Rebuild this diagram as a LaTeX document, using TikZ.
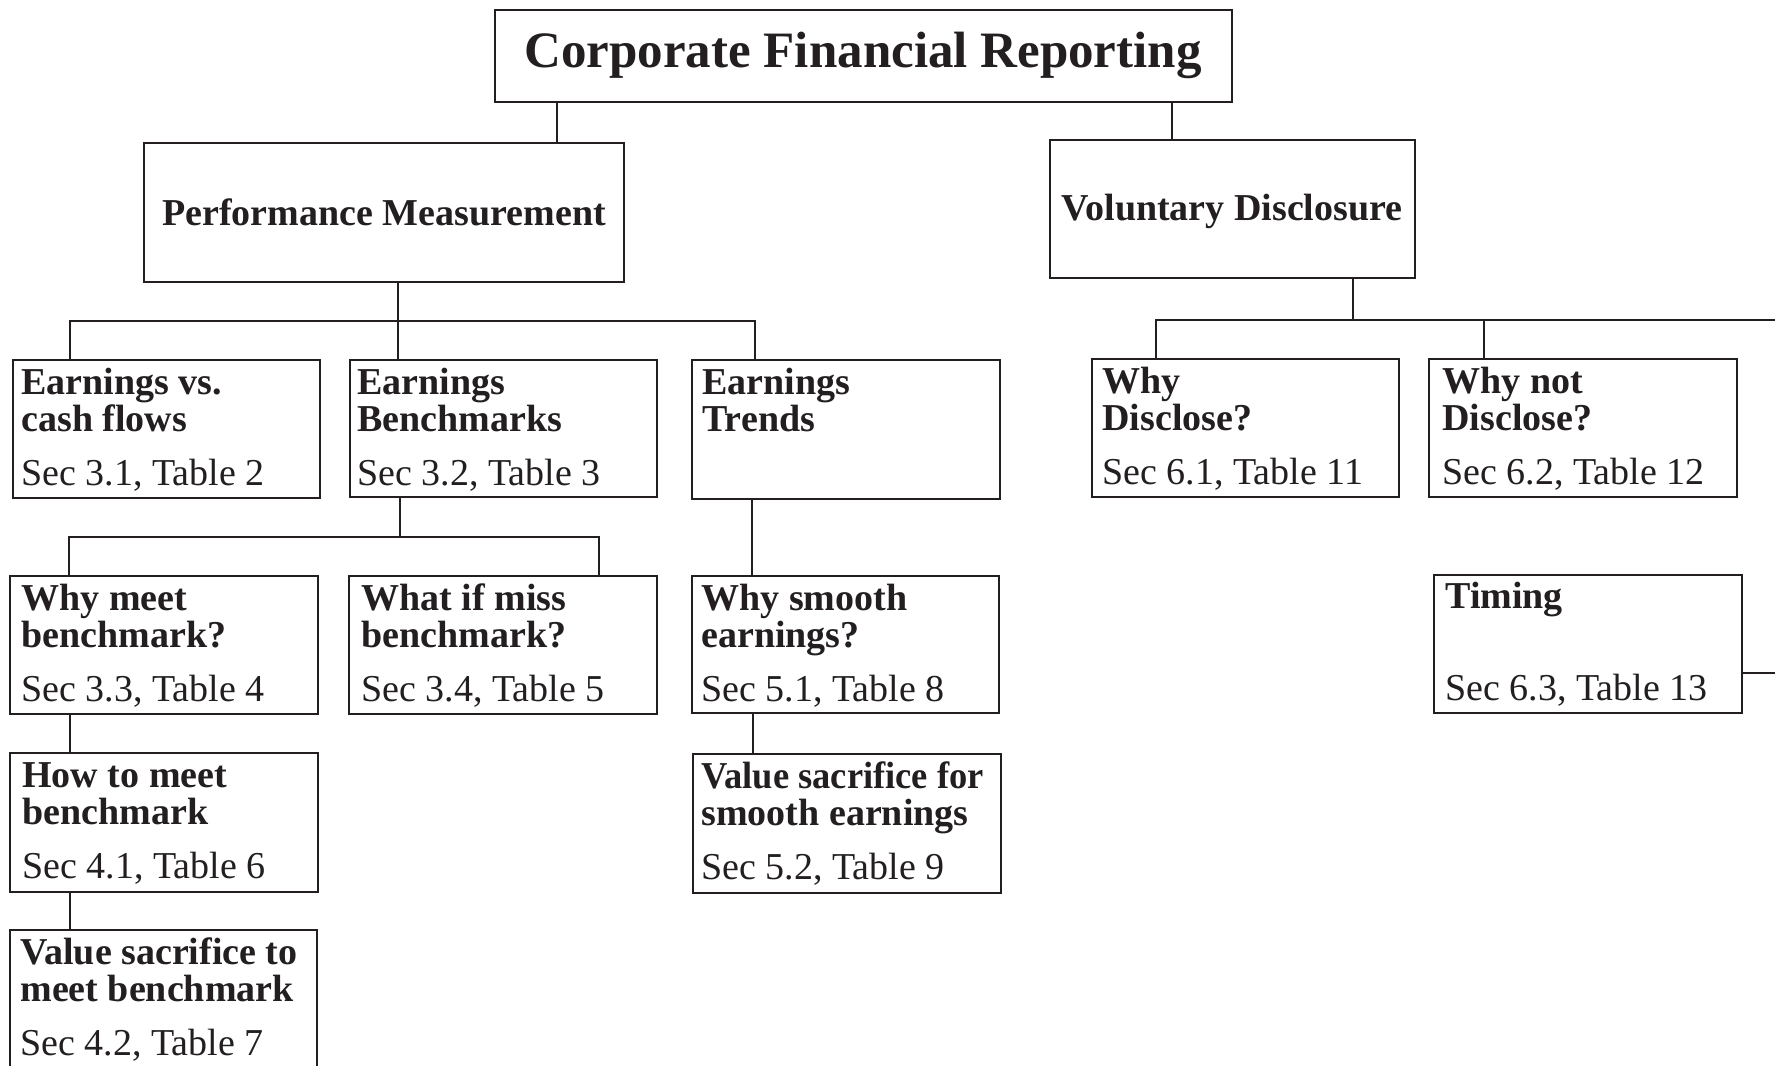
\documentclass[tikz,border=0pt]{standalone}
\usepackage{fontspec}
\setmainfont{Liberation Serif}
\usepackage{graphicx}
\usetikzlibrary{fit}
\definecolor{ink}{HTML}{231F20}
\tikzset{
  boxst/.style={draw=ink, line width=1.1pt, inner sep=0pt, rectangle},
  conn/.style={draw=ink, line width=1pt},
  bt/.style={anchor=base west, inner sep=0pt, text=ink, font=\bfseries\fontsize{19}{22}\selectfont},
  rt/.style={anchor=base west, inner sep=0pt, text=ink, font=\fontsize{19}{22}\selectfont},
  tt/.style={anchor=base, inner sep=0pt, text=ink, font=\bfseries\fontsize{25.5}{30}\selectfont},
}
% name, x1, y1, x2, y2, text x, line1, line2, sec
\newcommand\threebox[9]{%
  \node[boxst, fit={(#2,#3)(#4,#5)}] (#1) {};
  \node[bt] (#1-1) at (#6,#3+34) {#7};
  \node[bt] (#1-2) at (#6,#3+71) {#8};
  \node[rt] (#1-3) at (#6,#3+125) {#9};
}
\begin{document}
\begin{tikzpicture}[x=0.5pt,y=-0.5pt]
\useasboundingbox (0,0) rectangle (1775,1065);
\clip (0,0) rectangle (1775,1065);
\fill[white] (0,0) rectangle (1775,1065);

% top levels
\node[boxst, fit={(495,10)(1232,102)}] (root) {};
\node[tt] (root-t) at (863,68) {Corporate Financial Reporting};
\node[boxst, fit={(144,143)(624,282)}] (pm) {};
\node[bt, anchor=base] (pm-t) at (384,225) {Performance Measurement};
\node[boxst, fit={(1050,140)(1415,278)}] (vd) {};
\node[bt, anchor=base] (vd-t) at (1232,220) {Voluntary Disclosure};

% level 2
\threebox{evc}{13}{360}{320}{498}{21}{Earnings vs.}{cash flows}{Sec 3.1, Table 2}
\threebox{eb}{350}{360}{657}{497}{357}{Earnings}{Benchmarks}{Sec 3.2, Table 3}
\node[boxst, fit={(692,360)(1000,499)}] (et) {};
\node[bt] (et-1) at (702,394) {Earnings};
\node[bt] (et-2) at (702,431) {Trends};
\threebox{wd}{1092}{359}{1399}{497}{1102}{Why}{Disclose?}{Sec 6.1, Table 11}
\threebox{wnd}{1429}{359}{1737}{497}{1442}{Why not}{Disclose?}{Sec 6.2, Table 12}

% level 3
\threebox{wm}{10}{576}{318}{714}{21}{Why meet}{benchmark?}{Sec 3.3, Table 4}
\threebox{wim}{349}{576}{657}{714}{361}{What if miss}{benchmark?}{Sec 3.4, Table 5}
\threebox{ws}{692}{576}{999}{713}{701}{Why smooth}{earnings?}{Sec 5.1, Table 8}
\node[boxst, fit={(1434,575)(1742,713)}] (tim) {};
\node[bt] (tim-1) at (1445,608) {Timing};
\node[rt] (tim-3) at (1445,700) {Sec 6.3, Table 13};

% level 4/5
\threebox{htm}{10}{753}{318}{892}{22}{How to meet}{benchmark}{Sec 4.1, Table 6}
\threebox{vst}{10}{930}{317}{1090}{20}{Value sacrifice to}{meet benchmark}{Sec 4.2, Table 7}
\threebox{vsf}{693}{754}{1001}{893}{701}{\scalebox{0.96}[1]{Value sacrifice for}}{smooth earnings}{Sec 5.2, Table 9}

% connectors
\coordinate (c1) at (557,0);
\coordinate (c2) at (1172,0);
\draw[conn] (root.south -| c1) -- (pm.north -| c1);
\draw[conn] (root.south -| c2) -- (vd.north -| c2);

\coordinate (pmb) at (398,321);
\coordinate (pmbL) at (70,321);
\coordinate (pmbR) at (755,321);
\draw[conn] (pm.south -| pmb) -- (pmb);
\draw[conn] (evc.north -| pmbL) -- (pmbL) -- (pmbR) -- (et.north -| pmbR);
\draw[conn] (pmb) -- (eb.north -| pmb);

\coordinate (vdb) at (1353,320);
\coordinate (vdbL) at (1156,320);
\coordinate (vdbM) at (1484,320);
\coordinate (vdbE) at (1780,320);
\draw[conn] (vd.south -| vdb) -- (vdb);
\draw[conn] (wd.north -| vdbL) -- (vdbL) -- (vdbE);
\draw[conn] (vdbM) -- (wnd.north -| vdbM);

\coordinate (ebb) at (400,537);
\coordinate (ebbL) at (69,537);
\coordinate (ebbR) at (599,537);
\draw[conn] (eb.south -| ebb) -- (ebb);
\draw[conn] (wm.north -| ebbL) -- (ebbL) -- (ebbR) -- (wim.north -| ebbR);

\coordinate (c3) at (752,0);
\draw[conn] (et.south -| c3) -- (ws.north -| c3);
\coordinate (c4) at (70,0);
\draw[conn] (wm.south -| c4) -- (htm.north -| c4);
\draw[conn] (htm.south -| c4) -- (vst.north -| c4);
\coordinate (c5) at (753,0);
\draw[conn] (ws.south -| c5) -- (vsf.north -| c5);

\coordinate (tme) at (1780,673);
\draw[conn] (tim.east |- tme) -- (tme);
\end{tikzpicture}
\end{document}
